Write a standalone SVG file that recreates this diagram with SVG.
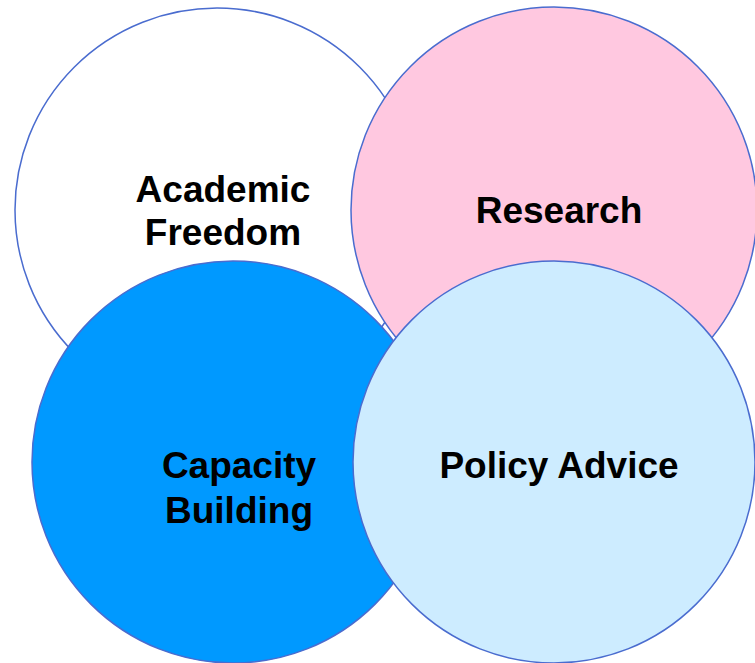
<svg xmlns="http://www.w3.org/2000/svg" width="755" height="663" viewBox="0 0 755 663">
<style>
.c{stroke:#4a6ccf;stroke-width:1.5}
.t{font-family:"Liberation Sans",Arial,sans-serif;font-weight:bold;font-size:37px;fill:#000;text-anchor:middle}
</style>
<rect width="755" height="663" fill="#fff"/>
<g id="academic-freedom">
<circle class="c" cx="217" cy="210" r="202" fill="#ffffff"/>
<text class="t" x="223" y="202">Academic</text>
<text class="t" x="223" y="245">Freedom</text>
</g>
<g id="research">
<circle class="c" cx="554" cy="210" r="203" fill="#ffc8e0"/>
<text class="t" x="559" y="223">Research</text>
</g>
<g id="capacity-building">
<circle class="c" cx="233" cy="462" r="201" fill="#0099ff"/>
<text class="t" x="239" y="478">Capacity</text>
<text class="t" x="239" y="523">Building</text>
</g>
<g id="policy-advice">
<circle class="c" cx="554" cy="462" r="201" fill="#cdecff"/>
<text class="t" x="559" y="478">Policy Advice</text>
</g>
<g id="connectors"/>
</svg>
